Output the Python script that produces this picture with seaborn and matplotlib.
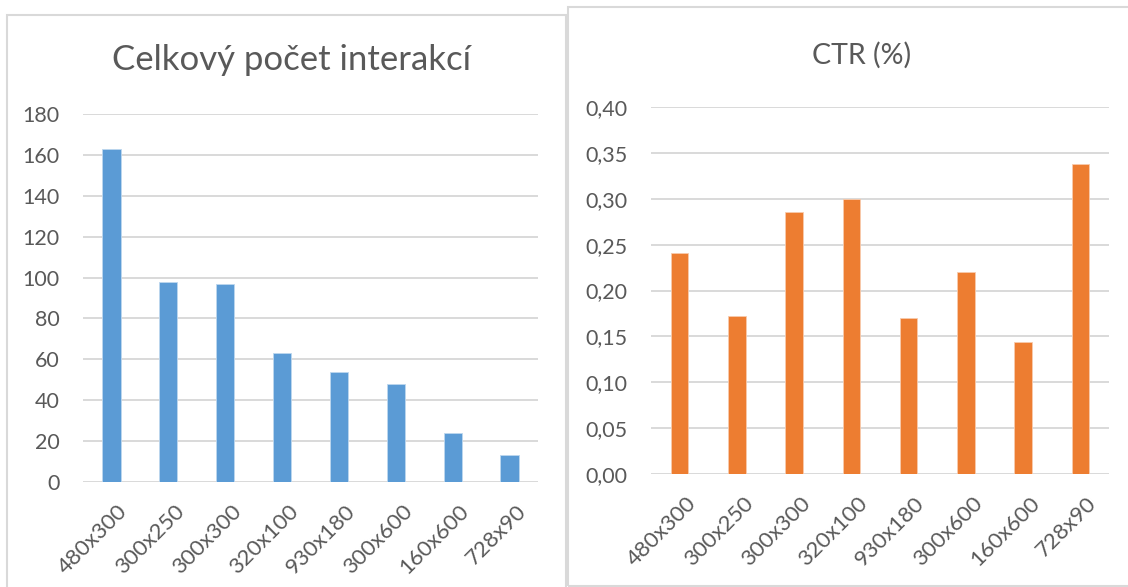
import matplotlib
matplotlib.use("Agg")
import matplotlib.pyplot as plt
import matplotlib.transforms as mtransforms
import numpy as np
import pandas as pd
import seaborn as sns
from matplotlib.patches import Rectangle
from matplotlib.ticker import FuncFormatter, MultipleLocator

# ---------------------------------------------------------
# Data
# ---------------------------------------------------------
sizes = ["480x300", "300x250", "300x300", "320x100", "930x180", "300x600", "160x600", "728x90"]
interactions = [163, 98, 97, 63, 54, 48, 24, 13]
ctr = [0.241, 0.172, 0.286, 0.300, 0.170, 0.220, 0.144, 0.338]

left_title = "Celkový počet interakcí"
right_title = "CTR (%)"

BLUE = "#5B9BD5"
ORANGE = "#ED7D31"
GRID = "#D9D9D9"
TEXT = "#595959"

sns.set_style("white")
plt.rcParams["font.family"] = ["Lato", "DejaVu Sans"]
plt.rcParams["xtick.labelsize"] = 16
plt.rcParams["ytick.labelsize"] = 15.5

W, H = 1128, 587
fig = plt.figure(figsize=(W / 100, H / 100), dpi=100)


def px_axes(x0, x1, y_top, y_bottom):
    # pixel box -> figure fraction
    return fig.add_axes([x0 / W, (H - y_bottom) / H, (x1 - x0) / W, (y_bottom - y_top) / H])


def style_axes(ax, ylim, step, fmt):
    ax.set_ylim(*ylim)
    ax.yaxis.set_major_locator(MultipleLocator(step))
    ax.yaxis.set_major_formatter(FuncFormatter(fmt))
    ax.set_axisbelow(True)
    ax.yaxis.grid(True, color=GRID, linewidth=1.4)
    ax.xaxis.grid(False)
    for s in ax.spines.values():
        s.set_visible(False)
    ax.tick_params(axis="both", length=0, colors=TEXT)
    ax.tick_params(axis="y", pad=17, labelsize=15.5)
    ax.tick_params(axis="x", pad=14, labelsize=16)
    ax.set_xlabel("")
    ax.set_ylabel("")
    shift = mtransforms.ScaledTranslation(6 / 100, 0, fig.dpi_scale_trans)
    for lab in ax.get_xticklabels():
        lab.set_fontsize(16)
        lab.set_rotation(45)
        lab.set_ha("right")
        lab.set_rotation_mode("anchor")
        lab.set_transform(lab.get_transform() + shift)


df = pd.DataFrame({"size": sizes, "interactions": interactions, "ctr": ctr})

# panel borders (Excel chart frames)
fig.add_artist(Rectangle((7 / W, -0.02), (566 - 7) / W, (H - 15) / H + 0.02,
                         transform=fig.transFigure, fill=False, edgecolor=GRID, linewidth=1.5))
fig.add_artist(Rectangle((568 / W, 1 / H), 0.6, (586 - 7) / H,
                         transform=fig.transFigure, fill=False, edgecolor=GRID, linewidth=1.5))

# left chart
ax1 = px_axes(83, 538, 114, 482)
sns.barplot(data=df, x="size", y="interactions", order=sizes, color=BLUE,
            saturation=1, width=0.32, edgecolor="#BDD7EE", linewidth=0.6, ax=ax1)
style_axes(ax1, (0, 180), 20, lambda v, p: f"{v:.0f}")
fig.text(291 / W, 1 - 60 / H, left_title, ha="center", va="center", fontsize=25, color=TEXT)

# right chart
ax2 = px_axes(651, 1109, 107, 474)
sns.barplot(data=df, x="size", y="ctr", order=sizes, color=ORANGE,
            saturation=1, width=0.31, edgecolor="#F8CBAD", linewidth=0.6, ax=ax2)
style_axes(ax2, (0, 0.40), 0.05, lambda v, p: f"{v:.2f}".replace(".", ","))
fig.text(862 / W, 1 - 55 / H, right_title, ha="center", va="center", fontsize=20.5, color=TEXT)

fig.savefig("out.png", dpi=100)
